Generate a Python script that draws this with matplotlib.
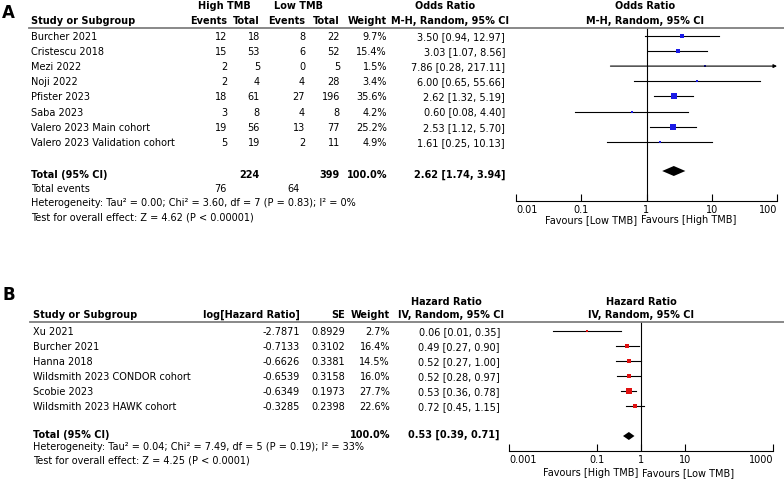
import matplotlib
matplotlib.use("Agg")
import matplotlib.pyplot as plt
from matplotlib.lines import Line2D

W, H = 784, 481

# ---- Panel A data: high vs low TMB, odds ratios
studies_a = ["Burcher 2021", "Cristescu 2018", "Mezi 2022", "Noji 2022", "Pfister 2023",
             "Saba 2023", "Valero 2023 Main cohort", "Valero 2023 Validation cohort"]
high_events = [12, 15, 2, 2, 18, 3, 19, 5]
high_total = [18, 53, 5, 4, 61, 8, 56, 19]
low_events = [8, 6, 0, 4, 27, 4, 13, 2]
low_total = [22, 52, 5, 28, 196, 8, 77, 11]
weight_a = [9.7, 15.4, 1.5, 3.4, 35.6, 4.2, 25.2, 4.9]
or_est = [3.50, 3.03, 7.86, 6.00, 2.62, 0.60, 2.53, 1.61]
or_lo = [0.94, 1.07, 0.28, 0.65, 1.32, 0.08, 1.12, 0.25]
or_hi = [12.97, 8.56, 217.11, 55.66, 5.19, 4.40, 5.70, 10.13]
or_total = (2.62, 1.74, 3.94)
a_ticks = [0.01, 0.1, 1, 10, 100]
a_ticklabels = ["0.01", "0.1", "1", "10", "100"]

# ---- Panel B data: hazard ratios
studies_b = ["Xu 2021", "Burcher 2021", "Hanna 2018", "Wildsmith 2023 CONDOR cohort",
             "Scobie 2023", "Wildsmith 2023 HAWK cohort"]
log_hr = ["-2.7871", "-0.7133", "-0.6626", "-0.6539", "-0.6349", "-0.3285"]
se_b = ["0.8929", "0.3102", "0.3381", "0.3158", "0.1973", "0.2398"]
weight_b = [2.7, 16.4, 14.5, 16.0, 27.7, 22.6]
hr_est = [0.06, 0.49, 0.52, 0.52, 0.53, 0.72]
hr_lo = [0.01, 0.27, 0.27, 0.28, 0.36, 0.45]
hr_hi = [0.35, 0.90, 1.00, 0.97, 0.78, 1.15]
hr_total = (0.53, 0.39, 0.71)
b_ticks = [0.001, 0.1, 1, 10, 1000]
b_ticklabels = ["0.001", "0.1", "1", "10", "1000"]

FS = 7
plt.rcParams["font.family"] = ["DejaVu Sans"]

fig = plt.figure(figsize=(W / 100, H / 100), dpi=100)


def t(x, y, s, ha="left", bold=False, size=FS, **kw):
    fig.text(x / W, 1 - y / H, s, ha=ha, va="center", fontsize=size,
             fontweight="bold" if bold else "normal", **kw)


def hline(x0, x1, y, lw=1.3, color="#7f7f7f"):
    fig.add_artist(Line2D([x0 / W, x1 / W], [1 - y / H, 1 - y / H],
                          transform=fig.transFigure, color=color, lw=lw))


def forest(left, right, top, bottom, est, lo, hi, weights, rows, total, total_y,
           ticks, ticklabels, xlim, color, dh):
    ax = fig.add_axes([left / W, 1 - bottom / H, (right - left) / W, (bottom - top) / H])
    ax.set_xscale("log")
    ax.set_xlim(*xlim)
    ax.set_ylim(bottom, top)
    for e, l, h, w, y in zip(est, lo, hi, weights, rows):
        if h > xlim[1]:
            ax.annotate("", xy=(xlim[1], y), xytext=(l, y),
                        arrowprops=dict(arrowstyle="-|>", color="black", lw=0.8,
                                        mutation_scale=5, shrinkA=0, shrinkB=0))
        else:
            ax.plot([l, h], [y, y], color="black", lw=0.8)
        ax.plot(e, y, marker="s", color=color, ms=max(1.8, 0.72 * w ** 0.5), mew=0,
                linestyle="none")
    e, l, h = total
    ax.fill([l, e, h, e], [total_y, total_y - dh, total_y, total_y + dh], color="black", lw=0)
    ax.axvline(1, color="black", lw=0.8)
    for s in ["top", "right", "left"]:
        ax.spines[s].set_visible(False)
    ax.spines["bottom"].set_linewidth(0.8)
    ax.set_yticks([])
    ax.set_xticks(ticks)
    ax.set_xticklabels(ticklabels, fontsize=FS)
    labels = ax.get_xticklabels()
    labels[0].set_ha("left")
    labels[-1].set_ha("right")
    ax.minorticks_off()
    ax.tick_params(axis="x", direction="in", length=5, width=0.8, pad=2)
    ax.patch.set_alpha(0)
    return ax


# ================= Panel A =================
t(2, 13, "A", bold=True, size=12)
t(224, 6, "High TMB", ha="center", bold=True)
t(298, 6, "Low TMB", ha="center", bold=True)
t(445, 6, "Odds Ratio", ha="center", bold=True)
t(645, 6, "Odds Ratio", ha="center", bold=True)
hy = 21
t(31, hy, "Study or Subgroup", bold=True)
cols_a = [227, 260, 305, 340, 387]
for x, s in zip(cols_a, ["Events", "Total", "Events", "Total", "Weight"]):
    t(x, hy, s, ha="right", bold=True)
t(450, hy, "M-H, Random, 95% CI", ha="center", bold=True)
t(645, hy, "M-H, Random, 95% CI", ha="center", bold=True)
hline(29, 784, 29)

rows_a = [36.8 + 15.15 * i for i in range(len(studies_a))]
for i, y in enumerate(rows_a):
    t(31, y, studies_a[i])
    vals = [high_events[i], high_total[i], low_events[i], low_total[i], f"{weight_a[i]:.1f}%"]
    for x, v in zip(cols_a, vals):
        t(x, y, str(v), ha="right")
    t(505, y, f"{or_est[i]:.2f} [{or_lo[i]:.2f}, {or_hi[i]:.2f}]", ha="right")

ty = 175
t(31, ty, "Total (95% CI)", bold=True)
t(260, ty, str(sum(high_total)), ha="right", bold=True)
t(340, ty, str(sum(low_total)), ha="right", bold=True)
t(387, ty, "100.0%", ha="right", bold=True)
t(505, ty, f"{or_total[0]:.2f} [{or_total[1]:.2f}, {or_total[2]:.2f}]", ha="right", bold=True)
t(31, 188.5, "Total events")
t(227, 188.5, str(sum(high_events)), ha="right")
t(300, 188.5, str(sum(low_events)), ha="right")
t(31, 203.5, "Heterogeneity: Tau² = 0.00; Chi² = 3.60, df = 7 (P = 0.83); I² = 0%")
t(31, 218, "Test for overall effect: Z = 4.62 (P < 0.00001)")

forest(516, 777, 29, 202, or_est, or_lo, or_hi, weight_a, rows_a, or_total, 172,
       a_ticks, a_ticklabels, (0.01, 100), "#1a1ae6", 5)
t(637, 220, "Favours [Low TMB]", ha="right")
t(641, 220, "Favours [High TMB]", ha="left")

# ================= Panel B =================
t(2, 295, "B", bold=True, size=12)
t(446, 302, "Hazard Ratio", ha="center", bold=True)
t(641, 302, "Hazard Ratio", ha="center", bold=True)
hy = 315
t(33, hy, "Study or Subgroup", bold=True)
cols_b = [300, 345, 390]
for x, s in zip(cols_b, ["log[Hazard Ratio]", "SE", "Weight"]):
    t(x, hy, s, ha="right", bold=True)
t(451, hy, "IV, Random, 95% CI", ha="center", bold=True)
t(641, hy, "IV, Random, 95% CI", ha="center", bold=True)
hline(30, 784, 323)

rows_b = [331.7 + 15 * i for i in range(len(studies_b))]
for i, y in enumerate(rows_b):
    t(33, y, studies_b[i])
    for x, v in zip(cols_b, [log_hr[i], se_b[i], f"{weight_b[i]:.1f}%"]):
        t(x, y, v, ha="right")
    t(500, y, f"{hr_est[i]:.2f} [{hr_lo[i]:.2f}, {hr_hi[i]:.2f}]", ha="right")

ty = 435
t(33, ty, "Total (95% CI)", bold=True)
t(390, ty, "100.0%", ha="right", bold=True)
t(500, ty, f"{hr_total[0]:.2f} [{hr_total[1]:.2f}, {hr_total[2]:.2f}]", ha="right", bold=True)
t(33, 447.5, "Heterogeneity: Tau² = 0.04; Chi² = 7.49, df = 5 (P = 0.19); I² = 33%")
t(33, 460.5, "Test for overall effect: Z = 4.25 (P < 0.0001)")

forest(509, 773, 323, 452, hr_est, hr_lo, hr_hi, weight_b, rows_b, hr_total, 437,
       b_ticks, b_ticklabels, (0.001, 1000), "#e01010", 4)
t(638, 473, "Favours [High TMB]", ha="right")
t(642, 473, "Favours [Low TMB]", ha="left")

fig.savefig("out.png", dpi=100)
